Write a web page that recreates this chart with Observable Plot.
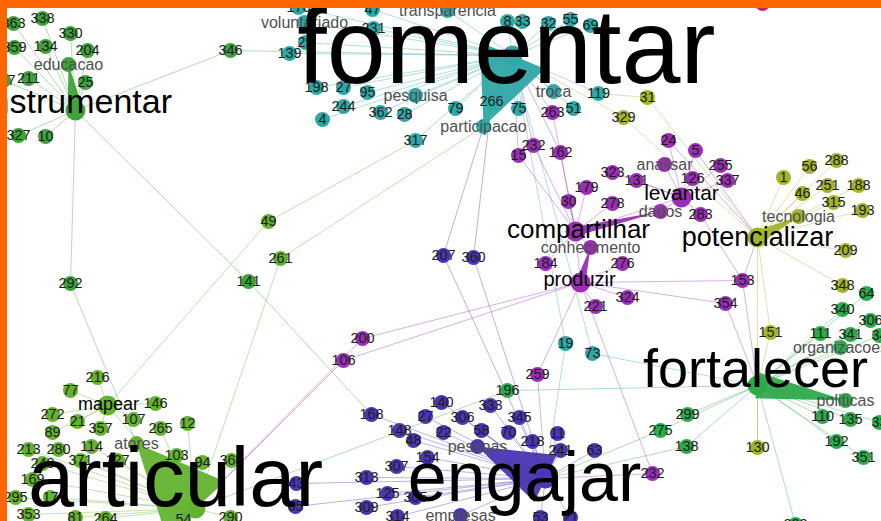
<!DOCTYPE html>
<html><head><meta charset="utf-8">
<script src="https://cdn.jsdelivr.net/npm/d3@7"></script>
<script src="https://cdn.jsdelivr.net/npm/@observablehq/plot@0.6"></script>
<style>
html,body{margin:0;padding:0;background:#ff6600;width:881px;height:521px;overflow:hidden;}
#chart{position:absolute;left:7px;top:8px;width:874px;height:513px;overflow:hidden;background:#fff;}
#chart svg{overflow:hidden;display:block;}
</style></head><body><div id="chart"></div>
<script>
// ---- groups (communities) ----
const groupNames = ["instrumentar","fomentar","compartilhar","engajar","articular","fortalecer","potencializar","outro"];
const groupColors = ["#3da33a","#2fa7a7","#9a2fb5","#4a36b2","#64b330","#2eaa4c","#a3b42a","#c8284f"];

// ---- hub verbs (layout coordinates from the network drawing) ----
const hubNames  = ["instrumentar","fomentar","compartilhar","produzir","levantar","engajar","articular","mapear","fortalecer","potencializar"];
const hubGroups = ["instrumentar","fomentar","compartilhar","compartilhar","compartilhar","engajar","articular","articular","fortalecer","potencializar"];
const hubLayoutX = [75,512,575,580,681,545,195,107,757,757];
const hubLayoutY = [110,55,231,282,197,478,508,405,385,237];
const hubLabelX = [77,506,578,579,681,524,175,108,755,757];
const hubLabelY = [112,82,237,285,199,500,505,409,386,245];
const hubLabelSize = [34,106,26,20,21,70,83,18,54,27];

// ---- members of each hub: [label, layoutX, layoutY] ----
const instrumentarMembers = [
 ["363",13,23],["338",42,18],["330",70,33],["359",14,47],["134",45,46],["204",87,50],
 ["educacao",68,64],["211",28,78],["247",3,80],["25",85,82],["327",18,135],["10",45,136],
 ["346",230,50],["292",70,283],["141",248,281]
];
const fomentarMembers = [
 ["176",298,7],["47",372,9],["voluntariado",304,22],["231",373,28],["29",305,42],["139",289,53],
 ["transparencia",447,10],["8",507,21],["33",522,21],["32",548,23],["55",570,19],["69",590,25],
 ["198",316,87],["27",343,87],["95",367,92],["pesquisa",415,95],["244",343,106],["362",380,112],
 ["28",404,114],["4",322,119],["79",455,108],["266",491,101],["75",518,108],["participacao",483,126],
 ["troca",553,91],["51",573,108],["119",598,93],["317",415,140],["19",565,343],["73",592,353]
];
const levantarMembers = [
 ["24",668,140],["5",695,150],["analisar",664,164],["255",720,165],["126",692,178],["337",727,180],
 ["131",636,180],["323",612,172],["dados",660,211],["283",700,214]
];
const compartilharMembers = [
 ["263",552,112],["15",518,155],["232",533,145],["162",560,152],["179",586,187],["30",568,201],
 ["278",612,203],["conhecimento",590,247],["184",545,263]
];
const produzirMembers = [
 ["276",622,263],["221",595,306],["324",627,297],["153",742,280],["354",725,303],["200",362,338],
 ["106",343,360],["259",537,374],["232",652,473]
];
const engajarMembers = [
 ["207",443,255],["360",473,257],["140",441,402],["168",371,414],["27",425,416],["306",462,417],
 ["333",490,405],["345",519,417],["11",557,433],["148",399,430],["22",443,432],["58",481,430],
 ["70",508,432],["48",413,440],["218",532,441],["241",560,450],["pessoas",477,446],["154",427,457],
 ["307",396,466],["313",366,477],["125",387,493],["305",415,497],["309",366,507],["314",397,516],
 ["empresas",460,515],["53",540,517],["21",570,517],["43",296,483],["65",295,506],["63",594,450]
];
const mapearMembers = [
 ["216",97,377],["77",70,390],["146",155,403],["272",52,414],["21",77,421],["107",133,419],
 ["357",100,428],["89",52,432],["49",268,221]
];
const articularMembers = [
 ["265",160,428],["12",187,423],["213",28,449],["280",58,449],["114",91,446],["atores",136,443],
 ["103",176,455],["94",202,462],["368",231,460],["240",42,463],["371",80,460],["127",117,460],
 ["169",32,479],["295",15,497],["17",50,497],["353",28,514],["81",75,517],["264",105,518],
 ["54",183,519],["290",230,517],["261",280,258]
];
const fortalecerMembers = [
 ["64",866,293],["340",842,309],["306",870,320],["111",820,333],["341",850,334],["34",879,335],
 ["organizacoes",840,347],["politicas",845,400],["110",822,416],["135",850,419],["33",879,422],
 ["192",836,441],["351",863,457],["299",687,414],["275",660,430],["138",686,446],["196",507,390],
 ["222",795,524]
];
const potencializarMembers = [
 ["31",647,97],["329",623,117],["1",783,177],["56",809,166],["288",836,160],["251",827,185],
 ["188",858,185],["46",802,193],["315",833,202],["193",862,210],["tecnologia",798,216],
 ["209",845,250],["348",842,285],["151",770,332],["130",757,447]
];
const otherMembers = [["",762,3]];

// ---- links between communities ----
const crossEdges = [
 ["instrumentar/346","fomentar"],["instrumentar/292","articular/atores"],["instrumentar/141","engajar/168"],
 ["mapear/49","fomentar/317"],["articular/261","fomentar/participacao"],
 ["engajar/207","fomentar/participacao"],["engajar/360","fomentar/266"],
 ["produzir/200","articular"],["produzir/106","articular"],["fomentar/19","engajar"],["fomentar/73","fortalecer"],
 ["produzir/259","engajar"],["fortalecer/196","articular"],["produzir/153","fortalecer"],["produzir/153","potencializar"],
 ["produzir/354","fortalecer"],["potencializar/151","fortalecer"],["potencializar/130","fortalecer"],
 ["fortalecer/275","engajar"],["fortalecer/138","engajar"],["potencializar/31","fomentar/119"],
 ["potencializar/329","fomentar"],["compartilhar/263","fomentar"],["compartilhar/15","fomentar"],
 ["compartilhar/232","fomentar"],["compartilhar/162","fomentar"],["produzir/232","engajar"],
 ["compartilhar","levantar"],["compartilhar","produzir"],["levantar/24","potencializar"],
 ["levantar/5","potencializar"],["levantar/283","produzir/153"],["mapear","articular"]
];
// heavy directed links: [source, target, weight]
const heavyEdges = [
 ["fomentar","fomentar/participacao",70],["engajar","engajar/pessoas",52],["articular","articular/atores",80],
 ["fortalecer","fortalecer/politicas",26],["compartilhar","levantar/dados",9],
 ["potencializar","potencializar/tecnologia",14],["instrumentar","instrumentar/educacao",16],
 ["produzir","compartilhar/conhecimento",10]
];

// ---- build tables ----
const colorOf = g => groupColors[groupNames.indexOf(g)];
const nodes = [];
hubNames.forEach((h,i) => nodes.push({key:h,label:h,group:hubGroups[i],x:hubLayoutX[i],y:hubLayoutY[i],hub:true,
  lx:hubLabelX[i],ly:hubLabelY[i],size:hubLabelSize[i]}));
const memberSets = [["instrumentar",instrumentarMembers],["fomentar",fomentarMembers],["levantar",levantarMembers],
 ["compartilhar",compartilharMembers],["produzir",produzirMembers],["engajar",engajarMembers],["mapear",mapearMembers],
 ["articular",articularMembers],["fortalecer",fortalecerMembers],["potencializar",potencializarMembers]];
const edges = [];
const byKey = new Map(nodes.map(n => [n.key,n]));
for (const [hub,list] of memberSets) {
  const g = hubGroups[hubNames.indexOf(hub)];
  for (const [label,x,y] of list) {
    const n = {key:hub+"/"+label,label,group:g,x,y,hub:false};
    nodes.push(n); byKey.set(n.key,n);
    edges.push({s:byKey.get(hub),t:n,color:colorOf(g)});
  }
}
for (const [label,x,y] of otherMembers) nodes.push({key:"outro/"+label,label,group:"outro",x,y,hub:false});
for (const [a,b] of crossEdges) {
  const s = byKey.get(a), t = byKey.get(b);
  edges.push({s,t,color:colorOf(s.group)});
}
const wedgePts = [];
heavyEdges.forEach(([a,b,w],i) => {
  const s = byKey.get(a), t = byKey.get(b);
  const dx = t.x-s.x, dy = t.y-s.y, L = Math.hypot(dx,dy);
  const px = -dy/L*w/2, py = dx/L*w/2, c = colorOf(s.group);
  wedgePts.push({id:i,x:s.x+px,y:s.y+py,c},{id:i,x:t.x,y:t.y,c},{id:i,x:s.x-px,y:s.y-py,c});
});
const isNum = n => /^\d*$/.test(n.label);
const members = nodes.filter(n => !n.hub);
const hubs = nodes.filter(n => n.hub);
const font = "'Liberation Sans', Arial, sans-serif";

const chart = Plot.plot({
  width: 874, height: 513, margin: 0,
  x: {domain:[7,881], range:[0,874], axis:null},
  y: {domain:[8,521], range:[0,513], axis:null},
  color: {type:"identity"},
  style: {background:"#fff", overflow:"hidden", fontFamily: font},
  marks: [
    Plot.link(edges, {x1:d=>d.s.x, y1:d=>d.s.y, x2:d=>d.t.x, y2:d=>d.t.y, stroke:"color", strokeOpacity:0.38, strokeWidth:1}),
    Plot.line(wedgePts, {x:"x", y:"y", z:"id", fill:"c", stroke:null, curve:"linear-closed", fillOpacity:0.95}),
    Plot.dot(hubs, {x:"x", y:"y", r:10, fill:d=>colorOf(d.group), stroke:null}),
    Plot.dot(members, {x:"x", y:"y", r:7.5, fill:d=>colorOf(d.group), stroke:null}),
    Plot.text(members.filter(isNum), {x:"x", y:"y", text:"label", fontSize:14.5, fill:"#1e1e1e", fontFamily:font}),
    Plot.text(members.filter(n => !isNum(n)), {x:"x", y:"y", text:"label", fontSize:16, fill:"#505050", fontFamily:font}),
    Plot.text(hubs, {x:"lx", y:"ly", text:"label", fontSize:d=>d.size, lineAnchor:"bottom", fill:"#000", fontFamily:font})
  ]
});
document.getElementById("chart").appendChild(chart);
</script></body></html>
